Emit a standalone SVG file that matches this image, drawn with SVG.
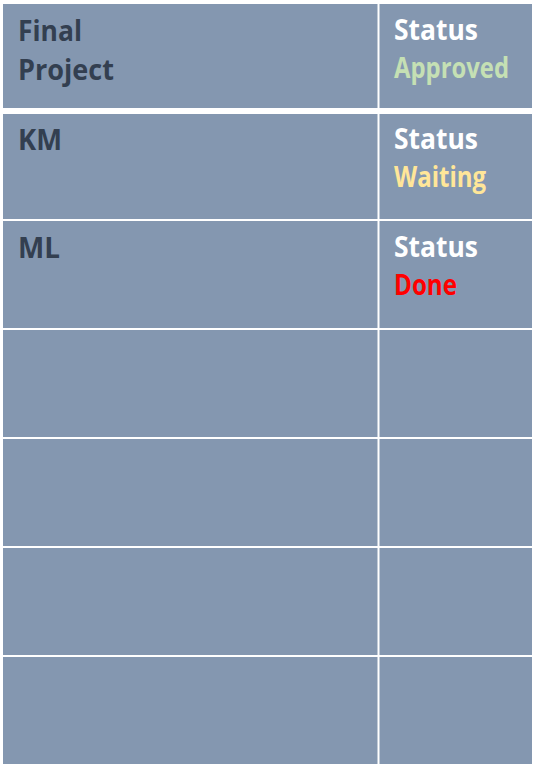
<svg xmlns="http://www.w3.org/2000/svg" width="538" height="768" viewBox="0 0 538 768">
<style>
.cell{fill:#8497B0}
text{font-family:"Open Sans","Liberation Sans",sans-serif;font-weight:bold;font-size:28px}
.name{fill:#333F50}
.st{fill:#FFFFFF}
</style>
<rect x="0" y="0" width="538" height="768" fill="#FFFFFF"/>
<g id="row1">
<rect class="cell" x="3" y="4" width="374.5" height="104"/>
<rect class="cell" x="379.5" y="4" width="152.5" height="104"/>
<text class="name" x="18" y="41" textLength="64" lengthAdjust="spacingAndGlyphs">Final</text>
<text class="name" x="18" y="80" textLength="96" lengthAdjust="spacingAndGlyphs">Project</text>
<text class="st" x="394" y="40" textLength="84" lengthAdjust="spacingAndGlyphs">Status</text>
<text x="394" y="78" fill="#C5E0B4" textLength="115" lengthAdjust="spacingAndGlyphs">Approved</text>
</g>
<g id="row2">
<rect class="cell" x="3" y="114" width="374.5" height="105"/>
<rect class="cell" x="379.5" y="114" width="152.5" height="105"/>
<text class="name" x="18" y="150" textLength="44" lengthAdjust="spacingAndGlyphs">KM</text>
<text class="st" x="394" y="149" textLength="84" lengthAdjust="spacingAndGlyphs">Status</text>
<text x="394" y="187" fill="#FFE699" textLength="92" lengthAdjust="spacingAndGlyphs">Waiting</text>
</g>
<g id="row3">
<rect class="cell" x="3" y="221" width="374.5" height="107"/>
<rect class="cell" x="379.5" y="221" width="152.5" height="107"/>
<text class="name" x="18" y="258" textLength="42" lengthAdjust="spacingAndGlyphs">ML</text>
<text class="st" x="394" y="257" textLength="84" lengthAdjust="spacingAndGlyphs">Status</text>
<text x="394" y="295" fill="#FF0000" textLength="63" lengthAdjust="spacingAndGlyphs">Done</text>
</g>
<g id="row4">
<rect class="cell" x="3" y="330" width="374.5" height="107"/>
<rect class="cell" x="379.5" y="330" width="152.5" height="107"/>
</g>
<g id="row5">
<rect class="cell" x="3" y="439" width="374.5" height="107"/>
<rect class="cell" x="379.5" y="439" width="152.5" height="107"/>
</g>
<g id="row6">
<rect class="cell" x="3" y="548" width="374.5" height="107"/>
<rect class="cell" x="379.5" y="548" width="152.5" height="107"/>
</g>
<g id="row7">
<rect class="cell" x="3" y="657" width="374.5" height="107"/>
<rect class="cell" x="379.5" y="657" width="152.5" height="107"/>
</g>
<g id="connectors"/>
</svg>
